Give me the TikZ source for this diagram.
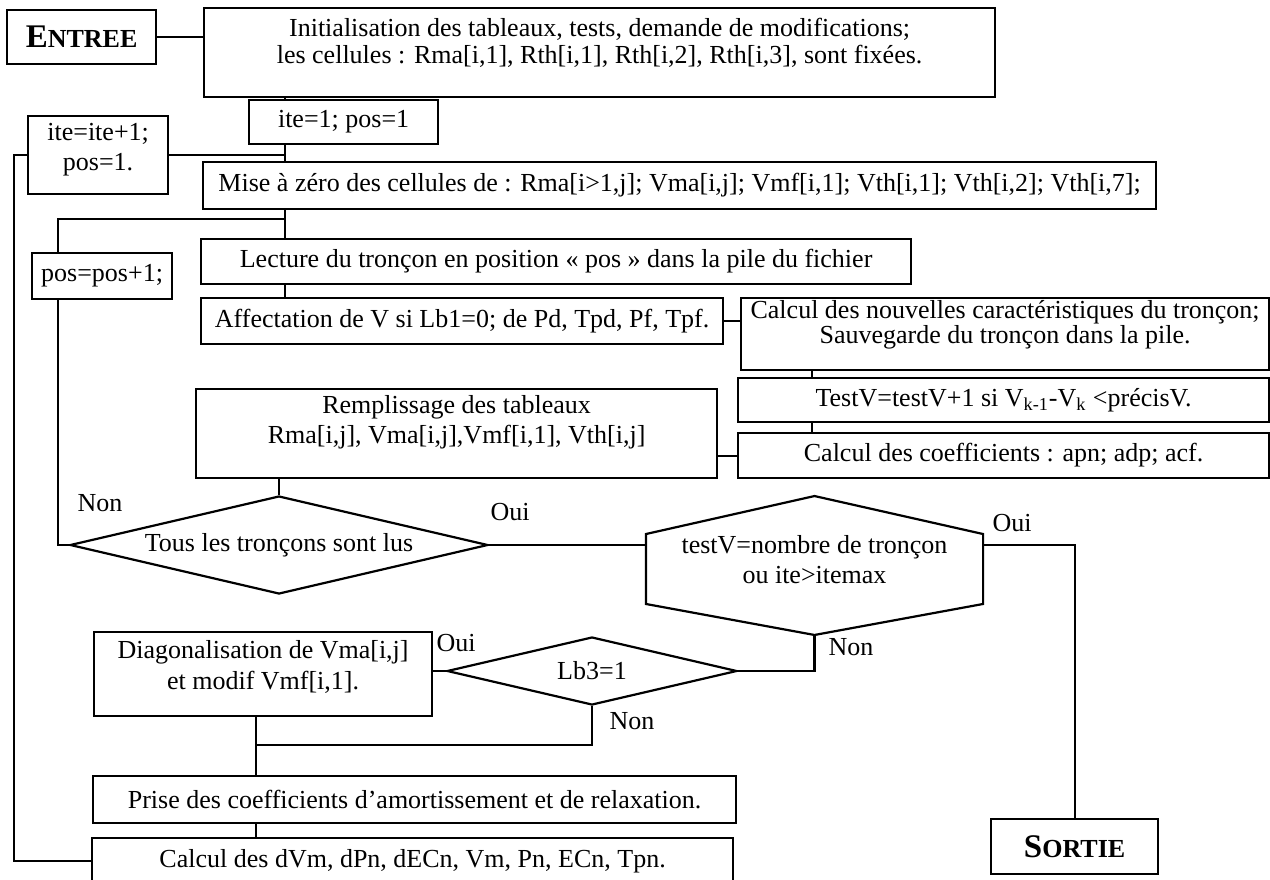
\documentclass[tikz,border=0pt]{standalone}
\usepackage{fontspec}
\setmainfont{Liberation Serif}
\usetikzlibrary{shapes.geometric}

\tikzset{
  box/.style={draw, rectangle, inner sep=0pt, anchor=north west, align=center},
  choix/.style={draw, diamond, inner sep=0pt, aspect=4.26, align=center},
}
\newcommand{\petitcap}[2]{{\fontsize{16.5}{17}\selectfont #1}{\fontsize{13}{14}\selectfont #2}}

\begin{document}
\begin{tikzpicture}[x=0.5pt, y=-0.5pt, line width=1.1pt, every node/.style={font=\fontsize{13}{15}\selectfont}]
\useasboundingbox (0,0) rectangle (1270,879);

\node[box, minimum width=74.5pt, minimum height=27pt, font=\bfseries] (entree) at (6,9) {\petitcap{E}{NTREE}};
\node[box, minimum width=395.5pt, minimum height=44.5pt, font=\fontsize{13}{13.5}\selectfont] (init) at (203,7) {Initialisation des tableaux, tests, demande de modifications;\\ les cellules : Rma[i,1], Rth[i,1], Rth[i,2], Rth[i,3], sont fixées.\\[-1.65pt]\mbox{}};
\node[box, minimum width=94.5pt, minimum height=22pt] (ite1) at (248,99) {ite=1; pos=1};
\node[box, minimum width=70pt, minimum height=39pt] (iteinc) at (27,115) {ite=ite+1;\\ pos=1.\\[-7.15pt]\mbox{}};
\node[box, minimum width=476.5pt, minimum height=23.5pt] (mise) at (202,161) {Mise à zéro des cellules de : Rma[i>1,j]; Vma[i,j]; Vmf[i,1]; Vth[i,1]; Vth[i,2]; Vth[i,7];};
\node[box, minimum width=70pt, minimum height=23pt] (pospos) at (31,252) {pos=pos+1;};
\node[box, minimum width=355pt, minimum height=22.5pt] (lecture) at (200,238) {Lecture du tronçon en position « pos » dans la pile du fichier};
\node[box, minimum width=261pt, minimum height=23pt] (affect) at (200,297) {Affectation de V si Lb1=0; de Pd, Tpd, Pf, Tpf.};
\node[box, minimum width=264pt, minimum height=36pt, font=\fontsize{13}{12.5}\selectfont] (calnouv) at (740,297) {Calcul des nouvelles caractéristiques du tronçon;\\ Sauvegarde du tronçon dans la pile.\\ \mbox{}};
\node[box, minimum width=265.5pt, minimum height=22pt] (testv) at (737,377) {TestV=testV+1 si V\textsubscript{k-1}-V\textsubscript{k} <précisV.};
\node[box, minimum width=260.5pt, minimum height=44.5pt] (rempl) at (195,388) {Remplissage des tableaux\\ Rma[i,j], Vma[i,j],Vmf[i,1], Vth[i,j]\\[-0.65pt]\mbox{}};
\node[box, minimum width=265.5pt, minimum height=22.5pt] (coeff) at (737,432) {Calcul des coefficients : apn; adp; acf.};
\node[choix, minimum width=209pt, minimum height=49pt] (tous) at (279,545) {Tous les tronçons sont lus};
\node[minimum width=167.5pt, minimum height=33pt, inner sep=0pt, align=center] (hexa) at (814.5,569) {testV=nombre de tronçon\\ ou ite>itemax\\[-5.15pt]\mbox{}};
\draw (hexa.north west) -- ([yshift=19pt]hexa.north) -- (hexa.north east) -- (hexa.south east) -- ([yshift=-15.5pt]hexa.south) coordinate (hexbot) -- (hexa.south west) -- cycle;
\node[box, minimum width=169pt, minimum height=42pt, font=\fontsize{13}{15.5}\selectfont] (diag) at (93,631) {Diagonalisation de Vma[i,j]\\ et modif Vmf[i,1].\\[-6.15pt]\mbox{}};
\node[choix, minimum width=145pt, minimum height=34pt] (lb3) at (592,671) {Lb3=1};
\node[box, minimum width=321.5pt, minimum height=23.5pt] (prise) at (92,775) {Prise des coefficients d’amortissement et de relaxation.};
\node[box, minimum width=320.5pt, minimum height=23pt] (calc) at (91,837) {Calcul des dVm, dPn, dECn, Vm, Pn, ECn, Tpn.};
\node[box, minimum width=83.5pt, minimum height=27.5pt, font=\bfseries] (sortie) at (990,818) {\petitcap{S}{ORTIE}};

\node (non1) at (100,503) {Non};
\node (oui1) at (510,512) {Oui};
\node (oui2) at (1012,523) {Oui};
\node (non2) at (851,647) {Non};
\node (oui3) at (456,643) {Oui};
\node (non3) at (632,721) {Non};

\coordinate (sp) at (285,0);
\coordinate (xl) at (58,0);
\coordinate (xr) at (812,0);
\coordinate (fork) at (285,219);
\coordinate (merge) at (256,745);

\draw (entree.east) -- (entree.east -| init.west);
\draw (init.south -| sp) -- (ite1.north -| sp);
\draw (ite1.south -| sp) -- (mise.north -| sp);
\draw (iteinc.east) -- (iteinc.east -| sp);
\draw (mise.south -| sp) -- (lecture.north -| sp);
\draw (fork) -| (xl |- pospos.north);
\draw (lecture.south -| sp) -- (affect.north -| sp);
\draw (affect.east) -- (affect.east -| calnouv.west);
\draw (calnouv.south -| xr) -- (testv.north -| xr);
\draw (testv.south -| xr) -- (coeff.north -| xr);
\draw (coeff.west) -- (coeff.west -| rempl.east);
\draw (rempl.south -| tous.north) -- (tous.north);
\draw (tous.west) -| (xl |- pospos.south);
\draw (tous.east) -- (tous.east -| hexa.west);
\draw (tous.east -| hexa.east) -| (sortie.north);
\draw (hexbot) |- (lb3.east);
\draw (lb3.west) -- (lb3.west -| diag.east);
\draw (lb3.south) |- (merge);
\draw (diag.south -| merge) -- (prise.north -| merge);
\draw (prise.south -| merge) -- (calc.north -| merge);
\draw (iteinc.west) -- ++(-13,0) |- (calc.west);
\end{tikzpicture}
\end{document}
